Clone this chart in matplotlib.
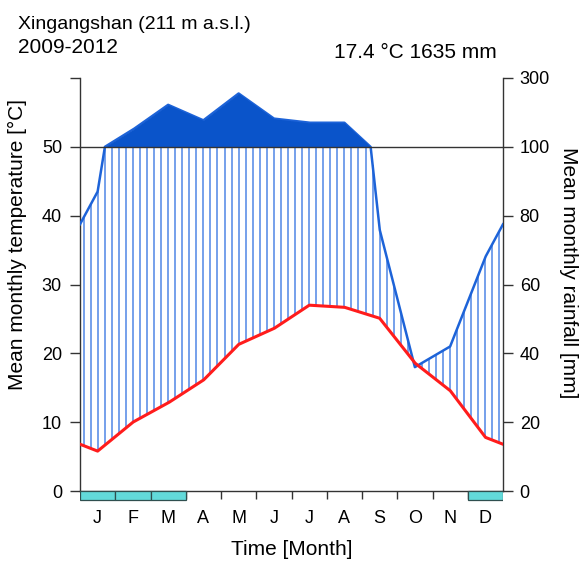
import numpy as np
import matplotlib
matplotlib.use("Agg")
import matplotlib.pyplot as plt

plt.rcParams['font.family'] = ['Liberation Sans', 'DejaVu Sans']

# monthly means
months = ['J', 'F', 'M', 'A', 'M', 'J', 'J', 'A', 'S', 'O', 'N', 'D']
temp = [5.8, 10.0, 12.8, 16.1, 21.3, 23.6, 27.0, 26.7, 25.1, 18.6, 14.6, 7.8]
prec = [87, 150, 222, 177, 255, 182, 170, 170, 76, 36, 42, 68]
frost = [1, 1, 1, 0, 0, 0, 0, 0, 0, 0, 0, 1]   # months with frost bar

station = 'Xingangshan (211 m a.s.l.)'
period = '2009-2012'
summary = '17.4 °C 1635 mm'

fill_col = '#0a54ca'
line_col = '#1d63d8'
hatch_col = '#5e90e8'
temp_col = '#ff1c1c'
frost_col = '#62dada'
axis_col = '#333333'


def p2t(p):
    # Walter-Lieth scale: 20 mm = 10 C up to 100 mm, 1/10 of that above
    p = np.asarray(p, dtype=float)
    return np.where(p <= 100, p / 2.0, 50 + (p - 100) / 20.0)


# month centres plus the year edges (mean of Dec and Jan)
xm = np.concatenate([[0], np.arange(12) + 0.5, [12]])
tm = np.concatenate([[(temp[-1] + temp[0]) / 2], temp, [(temp[-1] + temp[0]) / 2]])
pm = np.concatenate([[(prec[-1] + prec[0]) / 2], prec, [(prec[-1] + prec[0]) / 2]])

xf = np.linspace(0, 12, 2401)
tf = np.interp(xf, xm, tm)
pf = p2t(np.interp(xf, xm, pm))

fig = plt.figure(figsize=(5.8, 5.65), dpi=100)
ax = fig.add_axes([80 / 580, 60.2 / 565, 423 / 580, 426.8 / 565])
ax.set_xlim(0, 12)
ax.set_ylim(-2, 60)

# vertical hatching of the humid period
xh = np.arange(0.1, 12, 0.2)
th = np.interp(xh, xm, tm)
ph = np.minimum(p2t(np.interp(xh, xm, pm)), 50)
ok = ph > th
ax.vlines(xh[ok], th[ok], ph[ok], color=hatch_col, lw=1.2, zorder=2)

# precipitation curve and the >100 mm part
ax.plot(xf, pf, color=line_col, lw=1.8, zorder=3)
ax.fill_between(xf, 50, pf, where=pf > 50, color=fill_col, lw=0, zorder=4)
ax.plot(xf, tf, color=temp_col, lw=2.2, zorder=5)

ax.axhline(50, color=axis_col, lw=1.0, zorder=4)

# frost bars
for i, f in enumerate(frost):
    if f:
        ax.bar(i + 0.5, -1.3, width=1, bottom=0, color=frost_col,
               edgecolor='#2f4f4f', lw=0.9, zorder=6)

ax.spines['top'].set_visible(False)
ax.spines['left'].set_bounds(0, 60)
ax.spines['right'].set_bounds(0, 60)
ax.spines['bottom'].set_position(('data', 0))
for s in ['left', 'right', 'bottom']:
    ax.spines[s].set_color(axis_col)
    ax.spines[s].set_linewidth(1.0)

ax.set_yticks([0, 10, 20, 30, 40, 50, 60])
ax.set_yticklabels(['0', '10', '20', '30', '40', '50', ''])
ax.tick_params(axis='y', which='major', direction='out', length=7, width=1.0,
               color=axis_col, labelsize=13, pad=6, right=True, labelright=False)

ax.set_xticks(np.arange(1, 12))
ax.set_xticklabels([])
ax.set_xticks(np.arange(12) + 0.5, minor=True)
ax.set_xticklabels(months, minor=True)
ax.tick_params(axis='x', which='major', direction='out', length=6, width=1.0, color=axis_col)
ax.tick_params(axis='x', which='minor', length=0, labelsize=13, pad=14)

ax2 = ax.twinx()
ax2.set_ylim(ax.get_ylim())
ax2.set_yticks([0, 10, 20, 30, 40, 50, 60])
ax2.set_yticklabels(['0', '20', '40', '60', '80', '100', '300'])
ax2.tick_params(axis='y', direction='out', length=7, width=1.0, color=axis_col,
                labelsize=13, pad=5)
for s in ['top', 'left', 'bottom', 'right']:
    ax2.spines[s].set_visible(False)

ax.set_ylabel('Mean monthly temperature [°C]', fontsize=15)
ax.yaxis.set_label_coords(-0.125, 0.609)
ax2.set_ylabel('Mean monthly rainfall [mm]', fontsize=15, rotation=270, va='center')
ax2.yaxis.set_label_coords(1.154, 0.545)
ax.set_xlabel('Time [Month]', fontsize=15)
ax.xaxis.set_label_coords(0.5, -0.082)

fig.text(18 / 580, 1 - 29 / 565, station, fontsize=14, va='baseline', ha='left')
fig.text(18 / 580, 1 - 53 / 565, period, fontsize=15, va='baseline', ha='left')
fig.text(497 / 580, 1 - 58 / 565, summary, fontsize=15, va='baseline', ha='right')

fig.savefig('out.png', dpi=100)
